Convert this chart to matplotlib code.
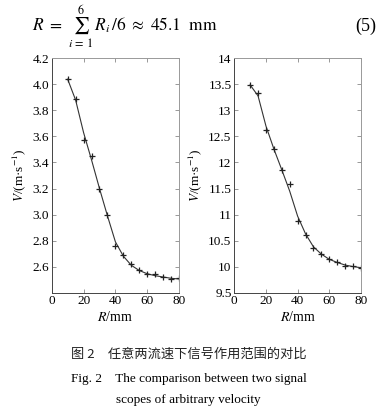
import numpy as np
import matplotlib.pyplot as plt

plt.rcParams['font.family'] = ['Liberation Serif', 'Noto Sans CJK SC']
plt.rcParams['mathtext.fontset'] = 'stix'

# measured points
R = [10, 15, 20, 25, 30, 35, 40, 45, 50, 55, 60, 65, 70, 75, 80]
V_low = [4.04, 3.89, 3.57, 3.45, 3.20, 3.00, 2.76, 2.69, 2.62, 2.575, 2.545, 2.54, 2.52, 2.505, 2.51]
V_high = [13.49, 13.34, 12.62, 12.25, 11.85, 11.58, 10.88, 10.61, 10.36, 10.25, 10.14, 10.08, 10.01, 10.01, 9.98]

# fitted curves
fit_low = [4.04, 3.88, 3.63, 3.42, 3.20, 2.99, 2.79, 2.68, 2.61, 2.57, 2.545, 2.53, 2.52, 2.51, 2.505]
fit_high = [13.49, 13.28, 12.70, 12.26, 11.86, 11.45, 10.97, 10.63, 10.38, 10.24, 10.14, 10.08, 10.03, 10.00, 9.98]

xticks = [0, 20, 40, 60, 80]
yticks_low = [2.6, 2.8, 3.0, 3.2, 3.4, 3.6, 3.8, 4.0, 4.2]
yticks_high = [9.5, 10, 10.5, 11, 11.5, 12, 12.5, 13, 13.5, 14]
ylabels_high = ['9.5', '10', '10.5', '11', '11.5', '12', '12.5', '13', '13.5', '14']

fig = plt.figure(figsize=(3.86, 4.11), dpi=100)

ax1 = fig.add_axes([0.134, 0.288, 0.330, 0.570])
ax2 = fig.add_axes([0.607, 0.288, 0.328, 0.570])

for ax, v, f in [(ax1, V_low, fit_low), (ax2, V_high, fit_high)]:
    ax.plot(R, f, color='#333333', lw=0.8)
    ax.plot(R, v, ls='none', marker='+', ms=5, mew=0.9, color='#222222')
    ax.set_xlim(0, 80)
    ax.set_xticks(xticks)
    ax.tick_params(direction='in', top=True, right=True, length=3, width=0.6,
                   labelsize=9.5, color='#888888', pad=2)
    for s in ax.spines.values():
        s.set_color('#999999')
        s.set_linewidth(0.7)
    ax.spines['left'].set_color('#444444')
    ax.spines['bottom'].set_color('#444444')
    ax.set_xlabel(r'$R$/mm', fontsize=10, labelpad=2)
    ax.set_ylabel(r'$V$/(m·s$^{-1}$)', fontsize=9.5, labelpad=3)

ax1.set_ylim(2.4, 4.2)
ax1.set_yticks(yticks_low)
ax1.set_yticklabels(['%.1f' % t for t in yticks_low])

ax2.set_ylim(9.5, 14)
ax2.set_yticks(yticks_high)
ax2.set_yticklabels(ylabels_high)

fig.text(0.083, 0.924, r'$R\ =\ \sum_{i\,=\,1}^{6}\,R_i\,/6\ \approx\ 45.1\ \ \mathrm{mm}$',
         fontsize=12.5, ha='left', va='baseline')
fig.text(0.975, 0.924, '(5)', fontsize=13, ha='right', va='baseline')

fig.text(0.49, 0.137, '图 2　任意两流速下信号作用范围的对比', fontsize=9.5,
         ha='center', va='center', family=['Noto Sans CJK SC'], color='#222222')
fig.text(0.49, 0.078, 'Fig. 2    The comparison between two signal', fontsize=9.5,
         ha='center', va='center')
fig.text(0.487, 0.027, 'scopes of arbitrary velocity', fontsize=9.5,
         ha='center', va='center')

fig.savefig('out.png', dpi=100)
